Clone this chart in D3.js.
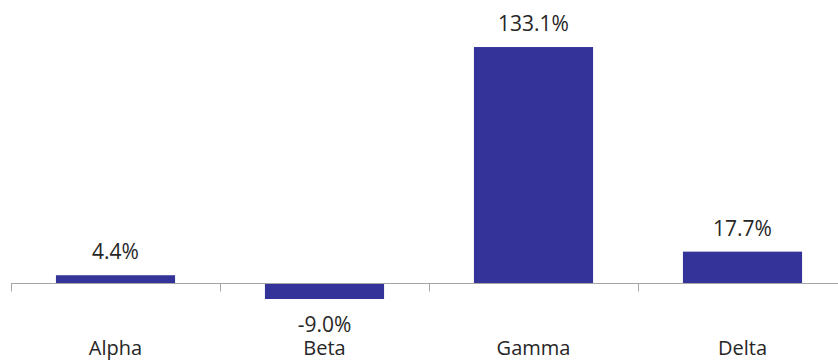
<!DOCTYPE html>
<html>
<head>
<meta charset="utf-8">
<script src="https://cdn.jsdelivr.net/npm/d3@7"></script>
<style>
  html, body { margin: 0; padding: 0; background: #ffffff; }
  svg { display: block; }
  text { font-family: "Open Sans", "Noto Sans", sans-serif; fill: #262626; }
</style>
</head>
<body>
<svg id="chart" width="838" height="360"></svg>
<script>
// Categories and their percentage changes
const categories = ["Alpha", "Beta", "Gamma", "Delta"];
const values = [4.4, -9.0, 133.1, 17.7];
const valueLabels = ["4.4%", "-9.0%", "133.1%", "17.7%"];

const svg = d3.select("#chart");

// One slot per category; bars sit centred inside their slot
const x = d3.scaleBand()
  .domain(categories)
  .range([11, 847])
  .padding(0);
const barWidth = x.bandwidth() * 0.57;

const y = d3.scaleLinear()
  .domain([-20, 140])
  .range([318.5, 34.8]);

const barColor = "#333399";
const axisColor = "#a6a6a6";

// Bars
svg.append("g")
  .selectAll("rect")
  .data(values)
  .join("rect")
  .attr("x", (d, i) => x(categories[i]) + (x.bandwidth() - barWidth) / 2)
  .attr("y", d => y(Math.max(0, d)))
  .attr("width", barWidth)
  .attr("height", d => Math.abs(y(d) - y(0)))
  .attr("fill", barColor);

// Zero axis with ticks at slot boundaries
const y0 = Math.round(y(0)) + 0.5;
const axis = svg.append("g").attr("stroke", axisColor).attr("stroke-width", 1);
axis.append("line")
  .attr("x1", x.range()[0])
  .attr("x2", x.range()[1])
  .attr("y1", y0)
  .attr("y2", y0);
const boundaries = categories.map(c => x(c)).concat([x.range()[1]]);
axis.selectAll("line.tick")
  .data(boundaries)
  .join("line")
  .attr("class", "tick")
  .attr("x1", d => Math.round(d) + 0.5)
  .attr("x2", d => Math.round(d) + 0.5)
  .attr("y1", y0)
  .attr("y2", y0 + 8);

// Value labels above positive bars, below negative ones
svg.append("g")
  .selectAll("text")
  .data(values)
  .join("text")
  .attr("x", (d, i) => x(categories[i]) + x.bandwidth() / 2)
  .attr("y", d => d >= 0 ? y(d) - 16 : y(d) + 33)
  .attr("text-anchor", "middle")
  .attr("font-size", 21)
  .text((d, i) => valueLabels[i]);

// Category labels
svg.append("g")
  .selectAll("text")
  .data(categories)
  .join("text")
  .attr("x", d => x(d) + x.bandwidth() / 2)
  .attr("y", 355)
  .attr("text-anchor", "middle")
  .attr("font-size", 20)
  .text(d => d);
</script>
</body>
</html>
